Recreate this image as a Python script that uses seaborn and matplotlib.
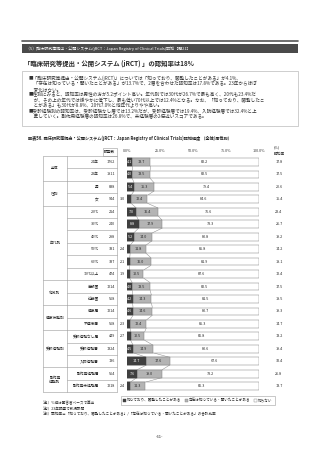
import matplotlib
matplotlib.use("Agg")
import matplotlib.pyplot as plt
import matplotlib.transforms as mtransforms
from matplotlib.patches import Rectangle, Patch
import seaborn as sns
import pandas as pd
import numpy as np

sns.set_style("white")
plt.rcParams['font.family'] = ['Noto Sans CJK JP', 'DejaVu Sans']

# ---------------- data ----------------
groups = ["全体", "全体", "性別", "性別", "年代別", "年代別", "年代別", "年代別", "年代別", "年代別",
          "地域別", "地域別", "健康状態別", "健康状態別", "受診経験別", "受診経験別", "受診経験別",
          "副作用\n経験別", "副作用\n経験別"]
labels = ["24年", "23年", "男", "女", "20代", "30代", "40代", "50代", "60代", "70代以上",
          "首都圏", "近畿圏", "健康層", "不健康層", "受診経験なし層", "受診経験層", "入院経験層",
          "副作用経験層", "副作用未経験層"]
n_resp = [1762, 1811, 838, 944, 214, 240, 288, 331, 337, 474, 1214, 568, 1214, 568, 449, 1324, 136, 564, 1218]
know_viewed = [4.1, 4.0, 5.4, 3.0, 7.0, 8.8, 5.2, 2.4, 2.1, 1.9, 4.0, 4.2, 4.6, 2.3, 2.7, 4.5, 14.7, 7.6, 2.4]
heard = [13.7, 13.5, 15.3, 12.4, 16.4, 17.9, 14.0, 11.8, 16.0, 10.5, 13.5, 14.3, 14.6, 12.4, 10.5, 14.9, 17.6, 19.0, 11.3]
unknown = [82.2, 82.5, 79.4, 84.6, 76.6, 73.3, 80.8, 85.8, 81.9, 87.6, 82.5, 81.5, 80.7, 85.3, 86.8, 80.6, 67.6, 73.2, 86.3]
awareness = [17.8, 17.5, 20.6, 15.4, 23.4, 26.7, 19.2, 14.2, 18.1, 12.4, 17.5, 18.5, 19.3, 14.7, 13.2, 19.4, 32.4, 26.8, 13.7]
tick_vals = [0, 25, 50, 75, 100]
tick_labels = ["0.0%", "25.0%", "50.0%", "75.0%", "100.0%"]
legend_labels = ["知っており、閲覧したことがある", "存在は知っている・聞いたことがある", "知らない"]

keys = [f"{g}_{l}" for g, l in zip(groups, labels)]
df = pd.DataFrame({"key": keys, "d": know_viewed, "l": heard, "w": unknown})
df["c1"] = df["d"]
df["c2"] = df["d"] + df["l"]
df["c3"] = df["c2"] + df["w"]

C_DARK = "#3f3f3f"
C_LIGHT = "#b4b4b4"
C_WHITE = "#ffffff"
EDGE = "#808080"

W, H = 320, 453
fig = plt.figure(figsize=(W / 100, H / 100), dpi=100)
pxT = mtransforms.Affine2D().scale(1 / W, -1 / H).translate(0, 1) + fig.transFigure

def ftext(x, y, s, **kw):
    fig.text(x / W, 1 - y / H, s, **kw)

# ---------------- page header ----------------
fig.add_artist(plt.Line2D([22 / W, 298 / W], [1 - 41 / H, 1 - 41 / H], color="#555555", lw=1.2))
fig.add_artist(Rectangle((22 / W, 1 - 53 / H), 276 / W, 9 / H, transform=fig.transFigure,
                         color="#4a4a4a", lw=0))
ftext(26, 48.5, "（5）臨床研究等提出・公開システム(jRCT：Japan Registry of Clinical Trials)認知［問21］",
      color="white", fontsize=2.9, va="center", ha="left")
ftext(24, 63, "「臨床研究等提出・公開システム (jRCT) 」の認知率は18%", fontsize=4.6,
      fontweight="bold", va="center", ha="left")

# text box
fig.add_artist(Rectangle((22 / W, 1 - 126 / H), 276 / W, 55 / H, transform=fig.transFigure,
                         fill=False, ec="#aaaaaa", lw=0.4))
body = [
    "■「臨床研究等提出・公開システム(jRCT)」については「知っており、閲覧したことがある」が4.1%、",
    "　「存在は知っている・聞いたことがある」が13.7%で、2層を合わせた認知率は17.8%である。23年からほぼ",
    "　変化はない。",
    "■性別にみると、認知率は男性の方が5.2ポイント高い。年代別では30代が26.7%で最も高く、20代も23.4%だ",
    "　が、その上の年代では緩やかに低下し、最も低い70代以上では12.4%となる。なお、「知っており、閲覧したこ",
    "　とがある」も30代が8.8%、20代7.0%と他年代よりやや高い。",
    "■受診経験別の認知率は、受診経験なし層では13.2%だが、受診経験層では19.4%、入院経験層では32.4%と上",
    "　昇していく。副作用経験層の認知率は26.8%で、未経験層の2倍近いスコアである。",
]
for i, line in enumerate(body):
    ftext(29, 78.5 + 5.5 * i, line, fontsize=3.3, va="center", ha="left", color="#333333")

ftext(28, 138, "図表56. 臨床研究等提出・公開システム(jRCT：Japan Registry of Clinical Trials)認知程度 （全体/属性別）",
      fontsize=3.0, fontweight="bold", va="center", ha="left")

# ---------------- bar axes ----------------
x0, x1 = 127, 259
top_px, pitch = 162, 12.45
nrows = len(labels)
ax_top = top_px - pitch / 2
ax_bot = top_px + pitch * (nrows - 0.5)
ax = fig.add_axes([x0 / W, 1 - ax_bot / H, (x1 - x0) / W, (ax_bot - ax_top) / H])

bw = 0.62
sns.barplot(data=df, x="c3", y="key", order=keys, orient="h", color=C_WHITE,
            edgecolor=EDGE, linewidth=0.35, width=bw, saturation=1, ax=ax)
sns.barplot(data=df, x="c2", y="key", order=keys, orient="h", color=C_LIGHT,
            edgecolor=EDGE, linewidth=0.35, width=bw, saturation=1, ax=ax)
sns.barplot(data=df, x="c1", y="key", order=keys, orient="h", color=C_DARK,
            edgecolor=C_DARK, linewidth=0.35, width=bw, saturation=1, ax=ax)
ax.set_xlim(0, 100)
ax.set_ylim(nrows - 0.5, -0.5)
ax.set_axis_off()

# connector lines
for i in range(nrows - 1):
    for col in ["c1", "c2"]:
        ax.plot([df[col][i], df[col][i + 1]], [i + bw / 2, i + 1 - bw / 2],
                color="#8a8a8a", lw=0.35, zorder=0.5)

fs = 2.7
for i in range(nrows):
    d, l, w = df["d"][i], df["l"][i], df["w"][i]
    if d >= 3.5:
        ax.text(d / 2, i, f"{d:.1f}", color="white", fontsize=fs, ha="center", va="center")
    else:
        ax.text(-1.5, i, f"{d:.1f}", color="#222222", fontsize=fs, ha="right", va="center")
    ax.text(d + l / 2, i, f"{l:.1f}", color="#222222", fontsize=fs, ha="center", va="center")
    ax.text(d + l + w / 2, i, f"{w:.1f}", color="#222222", fontsize=fs, ha="center", va="center")

# header ticks
tr_x_px = mtransforms.blended_transform_factory(ax.transData, pxT)
for v, s in zip(tick_vals, tick_labels):
    ax.text(v, 151, s, transform=tr_x_px, fontsize=fs, ha="center", va="center", color="#333333")

# left table
tr_px_y = mtransforms.blended_transform_factory(pxT, ax.transData)
for i in range(nrows):
    ax.text(99, i, labels[i], transform=tr_px_y, fontsize=fs, ha="right", va="center")
    ax.text(115, i, f"{n_resp[i]}", transform=tr_px_y, fontsize=fs, ha="right", va="center")
    ax.text(279, i, f"{awareness[i]:.1f}", transform=tr_px_y, fontsize=fs, ha="center", va="center")

# group labels and separators
gstarts = [0]
for i in range(1, nrows):
    if groups[i] != groups[i - 1]:
        gstarts.append(i)
gends = gstarts[1:] + [nrows]
line_kw = dict(transform=tr_px_y, color="#9a9a9a", lw=0.4, clip_on=False)
for s, e in zip(gstarts, gends):
    ax.text(55, (s + e - 1) / 2, groups[s], transform=tr_px_y, fontsize=fs, ha="center",
            va="center", linespacing=1.1)
    ax.plot([43, 117], [s - 0.5, s - 0.5], **line_kw)
    for r in range(s + 1, e):
        ax.plot([67, 117], [r - 0.5, r - 0.5], **line_kw)
ax.plot([43, 117], [nrows - 0.5, nrows - 0.5], **line_kw)
for xv in [43, 67, 117]:
    ax.plot([xv, xv], [-0.5, nrows - 0.5], **line_kw)

# header cells
fig.add_artist(Rectangle((103 / W, 1 - 156 / H), 14 / W, 8 / H, transform=fig.transFigure,
                         fill=False, ec="#9a9a9a", lw=0.4))
ftext(110, 152, "調査数", fontsize=fs, ha="center", va="center")
ftext(277, 147, "(%)", fontsize=fs, ha="center", va="center")
ftext(279, 154, "認知率", fontsize=fs, ha="center", va="center")

# legend
handles = [Patch(facecolor=C_DARK, edgecolor=C_DARK, lw=0.3),
           Patch(facecolor=C_LIGHT, edgecolor=EDGE, lw=0.3),
           Patch(facecolor=C_WHITE, edgecolor=EDGE, lw=0.3)]
leg = fig.legend(handles, legend_labels, loc="center", bbox_to_anchor=(198 / W, 1 - 400.5 / H),
                 ncol=3, fontsize=2.6, frameon=True, fancybox=False, edgecolor="#888888",
                 handlelength=0.8, handleheight=0.8, handletextpad=0.3, columnspacing=1.0,
                 borderpad=0.5)
leg.get_frame().set_linewidth(0.4)

notes = ["注1）%値は回答者ベースで算出", "注2）23年調査で新規設問",
         "注3）認知率＝「知っており、閲覧したことがある」/「存在は知っている・聞いたことがある」の合計比率"]
for y, s in zip([403, 408.5, 414], notes):
    ftext(43, y, s, fontsize=2.6, ha="left", va="center")

ftext(160, 437, "-61-", fontsize=3.0, ha="center", va="center")

fig.savefig("out.png", dpi=100, facecolor="white")
